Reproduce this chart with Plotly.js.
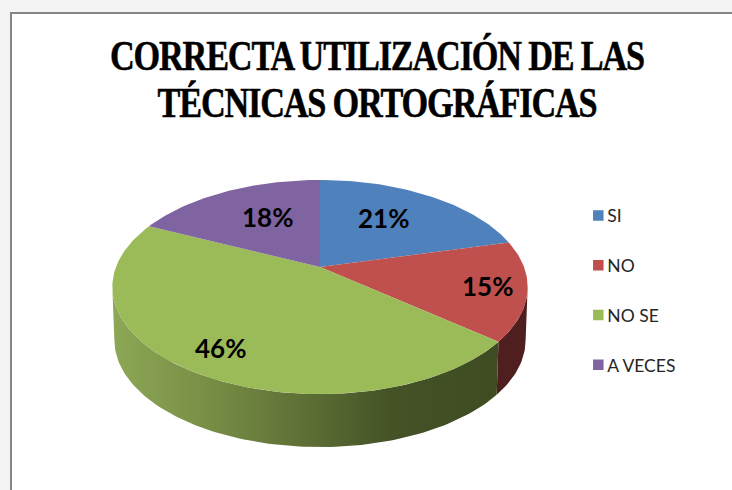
<!DOCTYPE html>
<html><head><meta charset="utf-8">
<script src="https://cdn.plot.ly/plotly-3.0.1.min.js"></script>
<style>html,body{margin:0;padding:0;background:#f3f3f3}
.gtitle{letter-spacing:-1.4px;stroke:#000;stroke-width:.5px;transform-box:fill-box;transform-origin:center;transform:scaleX(.825)}</style></head>
<body><div id="chart" style="width:732px;height:490px"></div>
<script>
const categories = ['SI', 'NO', 'NO SE', 'A VECES'];
const values = [21, 15, 46, 18];
const sliceColors = ['#4f81bd', '#c0504d', '#9bbb59', '#8064a2'];
const titleLines = ['CORRECTA UTILIZACIÓN DE LAS', 'TÉCNICAS ORTOGRÁFICAS'];
const labelAnchors = [[383, 218], [487, 286], [220, 348], [267, 217]];

// perspective projection of the pie disc onto the page
const view = {cx: 320, cy: 267, a: 204, b: 103.3, k: 0.187, depth: 53, aLow: 202};
function rim(pct, cy, a) {
  const t = pct / 100 * 2 * Math.PI, u = Math.sin(t), v = Math.cos(t), w = 1 + view.k * v;
  return [view.cx + a * u / w, cy - view.b * v / w];
}
function arc(p0, p1, cy, a) {
  const pts = [], n = Math.max(2, Math.ceil(Math.abs(p1 - p0) * 3));
  for (let i = 0; i <= n; i++) pts.push(rim(p0 + (p1 - p0) * i / n, cy, a));
  return pts;
}
const traces = [];
function addPoly(pts, extra) {
  traces.push(Object.assign({
    type: 'scatter', mode: 'lines', x: pts.map(p => p[0]), y: pts.map(p => p[1]),
    fill: 'toself', line: {width: 0}, hoverinfo: 'skip', showlegend: false
  }, extra));
}
function wall(p0, p1) {
  return arc(p0, p1, view.cy, view.a).concat(arc(p1, p0, view.cy + view.depth, view.aLow));
}
let edges = [0];
values.forEach(v => edges.push(edges[edges.length - 1] + v));
const silhouetteR = 28, silhouetteL = 72;
addPoly(wall(silhouetteR, edges[2]), {fillcolor: '#4f1f1f', line: {width: 0, color: '#4f1f1f'}});
addPoly(wall(edges[2], silhouetteL), {
  fillcolor: '#5a6b33',
  fillgradient: {type: 'horizontal', start: 113, stop: 500,
    colorscale: [[0, '#8ca755'], [0.22, '#7a9147'], [0.53, '#5a6b33'], [0.72, '#445226'], [1, '#3f4c22']]}
});
values.forEach((v, i) => {
  const pts = [[view.cx, view.cy]].concat(arc(edges[i], edges[i + 1], view.cy, view.a));
  pts.push([view.cx, view.cy]);
  addPoly(pts, {fillcolor: sliceColors[i], line: {width: 0, color: sliceColors[i]}});
});
categories.forEach((c, i) => traces.push({
  type: 'scatter', mode: 'markers', x: [null], y: [null], name: c, legendgroup: c,
  marker: {symbol: 'square', size: 10.5, color: sliceColors[i]}, hoverinfo: 'skip'
}));
const total = values.reduce((a, b) => a + b, 0);
const annotations = values.map((v, i) => ({
  x: labelAnchors[i][0], y: labelAnchors[i][1], xref: 'x', yref: 'y', showarrow: false,
  text: Math.round(v / total * 100) + '%',
  font: {family: 'Lato, sans-serif', size: 26, color: '#000', weight: 700}
}));
const layout = {
  width: 732, height: 490, margin: {l: 0, r: 0, t: 0, b: 0},
  paper_bgcolor: '#f3f3f3', plot_bgcolor: 'rgba(0,0,0,0)',
  title: {text: '<b>' + titleLines.join('<br>') + '</b>', x: 0.515, xanchor: 'center', y: 0.858, yanchor: 'top',
    font: {family: '"Liberation Serif", serif', size: 41.5, color: '#000'}},
  xaxis: {range: [0, 732], visible: false, fixedrange: true},
  yaxis: {range: [490, 0], visible: false, fixedrange: true},
  showlegend: true,
  legend: {x: 0.775, xanchor: 'left', y: 0.408, yanchor: 'middle', bgcolor: 'rgba(0,0,0,0)',
    tracegroupgap: 24, font: {family: 'Lato, sans-serif', size: 17.5, color: '#262626'}},
  shapes: [{type: 'rect', layer: 'below', xref: 'x', yref: 'y', x0: 11, y0: 13, x1: 760, y1: 520,
    fillcolor: '#fff', line: {color: '#868686', width: 2}}],
  annotations
};
Plotly.newPlot('chart', traces, layout, {displayModeBar: false, staticPlot: true}).then(gd => {
  // tighten title leading and pull legend swatches next to their text
  const lines = gd.querySelectorAll('.gtitle tspan.line');
  if (lines[1]) lines[1].setAttribute('dy', (47 / 41.5) + 'em');
  gd.querySelectorAll('.legendpoints').forEach(g => g.setAttribute('transform', 'translate(11,0)'));
});
</script></body></html>
